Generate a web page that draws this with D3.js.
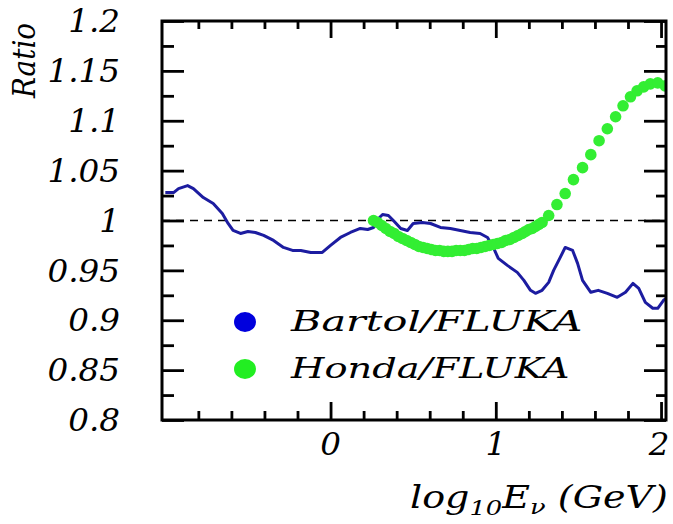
<!DOCTYPE html>
<html>
<head>
<meta charset="utf-8">
<script src="https://cdn.jsdelivr.net/npm/d3@7"></script>
<style>
  body { margin: 0; background: #fff; }
  text { font-family: "DejaVu Serif", "Liberation Serif", serif; font-style: italic; fill: #000; }
</style>
</head>
<body>
<script>
// Bartol/FLUKA ratio
const bartolX = [-1.0, -0.95, -0.92, -0.865, -0.83, -0.77, -0.71, -0.655, -0.62, -0.59, -0.545, -0.5, -0.455, -0.405,
  -0.345, -0.285, -0.23, -0.18, -0.12, -0.05, 0.0, 0.06, 0.12, 0.18, 0.225, 0.26, 0.29, 0.315, 0.35, 0.38, 0.425,
  0.465, 0.5, 0.555, 0.605, 0.665, 0.725, 0.785, 0.845, 0.905, 0.95, 0.985, 1.015, 1.07, 1.13, 1.17, 1.21, 1.24,
  1.28, 1.32, 1.35, 1.39, 1.42, 1.465, 1.495, 1.525, 1.575, 1.62, 1.675, 1.735, 1.785, 1.83, 1.865, 1.905, 1.95,
  1.98, 2.015, 2.04];
const bartolY = [1.028, 1.028, 1.032, 1.035, 1.032, 1.023, 1.017, 1.007, 0.997, 0.990, 0.987, 0.989, 0.988, 0.985,
  0.980, 0.973, 0.970, 0.970, 0.968, 0.968, 0.975, 0.983, 0.988, 0.992, 0.991, 0.993, 1.002, 1.006, 1.005, 1.000,
  0.992, 0.990, 0.997, 0.998, 0.997, 0.993, 0.992, 0.990, 0.988, 0.987, 0.983, 0.973, 0.962, 0.955, 0.948, 0.940,
  0.930, 0.927, 0.930, 0.938, 0.950, 0.963, 0.973, 0.970, 0.957, 0.940, 0.928, 0.930, 0.927, 0.923, 0.928, 0.937,
  0.932, 0.918, 0.912, 0.912, 0.920, 0.923];

// Honda/FLUKA ratio (dots, dense where the curve is flat)
const hondaX = [0.26, 0.285, 0.31, 0.335, 0.36, 0.385, 0.41, 0.435, 0.46, 0.485, 0.51, 0.535, 0.56, 0.585, 0.61,
  0.635, 0.66, 0.685, 0.71, 0.735, 0.76, 0.785, 0.81, 0.835, 0.86, 0.885, 0.91, 0.935, 0.96, 0.985, 1.01, 1.035,
  1.06, 1.085, 1.11, 1.135, 1.16, 1.18, 1.20, 1.22, 1.24, 1.26, 1.28, 1.32, 1.37, 1.42, 1.47, 1.525, 1.575, 1.625,
  1.675, 1.725, 1.77, 1.815, 1.855, 1.895, 1.935, 1.98, 2.025];
const hondaY = [1.000, 0.998, 0.995, 0.992, 0.989, 0.987, 0.984, 0.982, 0.980, 0.978, 0.976, 0.974, 0.973, 0.972,
  0.971, 0.970, 0.970, 0.969, 0.969, 0.969, 0.970, 0.970, 0.970, 0.971, 0.972, 0.972, 0.973, 0.974, 0.975, 0.976,
  0.977, 0.978, 0.980, 0.981, 0.983, 0.985, 0.987, 0.989, 0.991, 0.992, 0.994, 0.996, 0.998, 1.005, 1.016, 1.027,
  1.041, 1.053, 1.066, 1.080, 1.092, 1.104, 1.115, 1.124, 1.130, 1.134, 1.137, 1.138, 1.135];

const yTickLabels = ["0.8", "0.85", "0.9", "0.95", "1", "1.05", "1.1", "1.15", "1.2"];
const xTickLabels = ["0", "1", "2"];
const legendNames = ["Bartol/FLUKA", "Honda/FLUKA"];

const width = 673, height = 524;
const frame = {left: 162, right: 666, top: 21, bottom: 420};

const svg = d3.select("body").append("svg")
    .attr("width", width).attr("height", height);

const x = d3.scaleLinear().domain([-1.02, 2.03]).range([frame.left, frame.right]);
const y = d3.scaleLinear().domain([0.8, 1.2]).range([frame.bottom, frame.top]);

// stretch text horizontally to a target width, anchored at (px, py)
function fitText(sel, px, py, w) {
    const bw = sel.node().getBBox().width;
    sel.attr("transform", `translate(${px},${py}) scale(${w / bw},1)`);
}

svg.append("clipPath").attr("id", "plot-clip")
  .append("rect")
    .attr("x", frame.left).attr("y", frame.top)
    .attr("width", frame.right - frame.left).attr("height", frame.bottom - frame.top);

// dashed reference line at 1
svg.append("line")
    .attr("x1", frame.left).attr("x2", frame.right)
    .attr("y1", y(1)).attr("y2", y(1))
    .attr("stroke", "#000").attr("stroke-width", 1.5)
    .attr("stroke-dasharray", "8,6");

// ticks, drawn inside the frame
const yMajor = d3.range(0.8, 1.2001, 0.05);
const yMinor = d3.range(0.825, 1.2, 0.05);
const xMajor = [0, 1, 2];
const xMinor = [-0.8, -0.6, -0.4, -0.2, 0.2, 0.4, 0.6, 0.8, 1.2, 1.4, 1.6, 1.8];

function tickAxis(axis, tx, ty) {
    const g = svg.append("g").attr("transform", `translate(${tx},${ty})`).call(axis.tickFormat(""));
    g.select(".domain").remove();
    g.selectAll("line").attr("stroke", "#000").attr("stroke-width", 2.8);
}
tickAxis(d3.axisLeft(y).tickValues(yMajor).tickSize(-22), frame.left, 0);
tickAxis(d3.axisLeft(y).tickValues(yMinor).tickSize(-12), frame.left, 0);
tickAxis(d3.axisRight(y).tickValues(yMajor).tickSize(-22), frame.right, 0);
tickAxis(d3.axisRight(y).tickValues(yMinor).tickSize(-10), frame.right, 0);
tickAxis(d3.axisBottom(x).tickValues(xMajor).tickSize(-18), 0, frame.bottom);
tickAxis(d3.axisBottom(x).tickValues(xMinor).tickSize(-9), 0, frame.bottom);
tickAxis(d3.axisTop(x).tickValues(xMajor).tickSize(-17), 0, frame.top);
tickAxis(d3.axisTop(x).tickValues(xMinor).tickSize(-8), 0, frame.top);

// Bartol line
const bartol = bartolX.map((v, i) => [v, bartolY[i]]);
svg.append("path")
    .datum(bartol)
    .attr("clip-path", "url(#plot-clip)")
    .attr("fill", "none")
    .attr("stroke", "#1c1ca0")
    .attr("stroke-width", 3)
    .attr("stroke-linejoin", "round")
    .attr("d", d3.line().x(d => x(d[0])).y(d => y(d[1])));

// Honda dots
svg.append("g").attr("clip-path", "url(#plot-clip)")
  .selectAll("circle")
  .data(hondaX.map((v, i) => [v, hondaY[i]]))
  .enter().append("circle")
    .attr("cx", d => x(d[0]))
    .attr("cy", d => y(d[1]))
    .attr("r", 5.8)
    .attr("fill", "#33ee33");

// frame
svg.append("rect")
    .attr("x", frame.left).attr("y", frame.top)
    .attr("width", frame.right - frame.left).attr("height", frame.bottom - frame.top)
    .attr("fill", "none").attr("stroke", "#000").attr("stroke-width", 3);

// y tick labels
yTickLabels.forEach(lab => {
    svg.append("text")
        .attr("text-anchor", "end")
        .attr("font-size", 31)
        .attr("dy", "0.36em")
        .attr("transform", `translate(120,${y(+lab)}) scale(1.05,1)`)
        .text(lab);
});

// x tick labels
xTickLabels.forEach(lab => {
    svg.append("text")
        .attr("text-anchor", "middle")
        .attr("font-size", 31)
        .attr("transform", `translate(${Math.min(x(+lab), 659)},455) scale(1.05,1)`)
        .text(lab);
});

// axis titles
const xTitle = svg.append("text").attr("font-size", 31);
xTitle.append("tspan").text("log");
xTitle.append("tspan").attr("font-size", 21).attr("dy", 7).text("10");
xTitle.append("tspan").attr("dy", -7).text("E");
xTitle.append("tspan").attr("font-size", 21).attr("dy", 6).text("ν");
xTitle.append("tspan").attr("dy", -6).text(" (GeV)");
fitText(xTitle, 410, 508, 258);

const yTitle = svg.append("text").attr("font-size", 32).text("Ratio");
const yw = yTitle.node().getBBox().width;
yTitle.attr("transform", `translate(35,98) rotate(-90) scale(${76 / yw},1)`);

// legend
const legendColors = ["#0000dd", "#22ee22"];
const legendY = [322, 369];
const legendW = [293, 280];
legendNames.forEach((name, i) => {
    svg.append("ellipse")
        .attr("cx", 245).attr("cy", legendY[i])
        .attr("rx", 11).attr("ry", 10)
        .attr("fill", legendColors[i]);
    const t = svg.append("text").attr("font-size", 28).text(name);
    fitText(t, 291, legendY[i] + 9, legendW[i]);
});
</script>
</body>
</html>
